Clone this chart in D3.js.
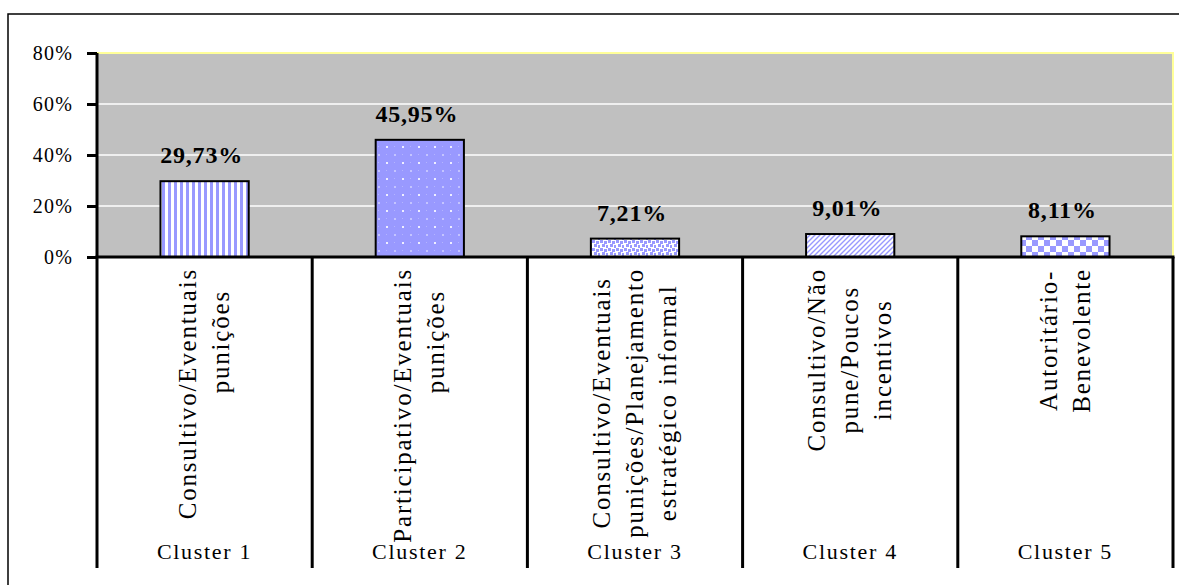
<!DOCTYPE html>
<html>
<head>
<meta charset="utf-8">
<script src="https://cdn.jsdelivr.net/npm/d3@7/dist/d3.min.js"></script>
<style>
  html, body { margin: 0; padding: 0; background: #ffffff; }
  svg { display: block; }
  text { font-family: "Liberation Serif", "Times New Roman", serif; fill: #000; }
</style>
</head>
<body>
<svg id="chart" width="1179" height="585"></svg>
<script>
// ---- data ----
const clusters = ["Cluster 1", "Cluster 2", "Cluster 3", "Cluster 4", "Cluster 5"];
const values = [29.73, 45.95, 7.21, 9.01, 8.11];
const categoryLines = [
  ["Consultivo/Eventuais", "punições"],
  ["Participativo/Eventuais", "punições"],
  ["Consultivo/Eventuais", "punições/Planejamento", "estratégico informal"],
  ["Consultivo/Não", "pune/Poucos", "incentivos"],
  ["Autoritário-", "Benevolente"]
];
const yTicks = [0, 20, 40, 60, 80];
const patternIds = ["pVert", "pDots", "pConfetti", "pDiag", "pCheck"];

// ---- layout ----
const plot = { left: 97, right: 1173, top: 53, bottom: 257 };
const catBottom = 568;
const blue = "#9999FF";
// how short wrapped lines sit in the rotated label block
const labelAlign = ["top", "top", "center", "center", "center"];
const svg = d3.select("#chart");

// outer border
svg.append("rect").attr("x", 8).attr("y", 14).attr("width", 1200).attr("height", 600)
  .attr("fill", "#fff").attr("stroke", "#000").attr("stroke-width", 1.5);

// patterns
const defs = svg.append("defs");
function pat(id, w, h) {
  return defs.append("pattern").attr("id", id).attr("patternUnits", "userSpaceOnUse")
    .attr("width", w).attr("height", h);
}
let p = pat("pVert", 6, 6);
p.append("rect").attr("width", 6).attr("height", 6).attr("fill", "#fff");
p.append("rect").attr("width", 3).attr("height", 6).attr("fill", blue);

p = pat("pDots", 16, 16);
p.append("rect").attr("width", 16).attr("height", 16).attr("fill", blue);
p.append("rect").attr("x", 2).attr("y", 2).attr("width", 2).attr("height", 2).attr("fill", "#eeeeff");
p.append("rect").attr("x", 10).attr("y", 10).attr("width", 2).attr("height", 2).attr("fill", "#c4c4ff");
p.append("rect").attr("x", 10).attr("y", 2).attr("width", 1).attr("height", 1).attr("fill", "#b4b4ff");
p.append("rect").attr("x", 2).attr("y", 10).attr("width", 1).attr("height", 1).attr("fill", "#b4b4ff");

p = pat("pConfetti", 8, 8);
p.append("rect").attr("width", 8).attr("height", 8).attr("fill", "#fff");
[[0,0],[4,1],[2,4],[6,5]].forEach(([a,b]) =>
  p.append("rect").attr("x", a).attr("y", b).attr("width", 3).attr("height", 3).attr("fill", blue));

p = pat("pDiag", 5, 5);
p.append("rect").attr("width", 5).attr("height", 5).attr("fill", "#fff");
p.append("path").attr("d", "M0,5 L5,0 M-1,1 L1,-1 M4,6 L6,4").attr("stroke", blue).attr("stroke-width", 1.4);

p = pat("pCheck", 12, 12);
p.append("rect").attr("width", 12).attr("height", 12).attr("fill", "#fff");
p.append("rect").attr("width", 6).attr("height", 6).attr("fill", blue);
p.append("rect").attr("x", 6).attr("y", 6).attr("width", 6).attr("height", 6).attr("fill", blue);

// scales
const y = d3.scaleLinear().domain([0, 80]).range([plot.bottom, plot.top]);
const x = d3.scaleBand().domain(clusters).range([plot.left, plot.right])
  .paddingInner(0.59).paddingOuter(0.295);
const xCat = d3.scaleBand().domain(clusters).range([plot.left, plot.right]).padding(0);

// plot background
svg.append("rect").attr("x", plot.left).attr("y", plot.top)
  .attr("width", plot.right - plot.left).attr("height", plot.bottom - plot.top)
  .attr("fill", "#C0C0C0");

// gridlines
svg.append("g").selectAll("line").data(yTicks.filter(t => t > 0 && t < 80)).join("line")
  .attr("x1", plot.left).attr("x2", plot.right)
  .attr("y1", d => y(d)).attr("y2", d => y(d))
  .attr("stroke", "#fff").attr("stroke-width", 1.5);

// top & right border (yellowish)
svg.append("path")
  .attr("d", `M${plot.left},${plot.top} H${plot.right} V${plot.bottom}`)
  .attr("fill", "none").attr("stroke", "#FFFF99").attr("stroke-width", 2);

// bars
svg.append("g").selectAll("rect").data(clusters).join("rect")
  .attr("x", d => x(d)).attr("width", x.bandwidth())
  .attr("y", (d, i) => y(values[i])).attr("height", (d, i) => y(0) - y(values[i]))
  .attr("fill", (d, i) => `url(#${patternIds[i]})`)
  .attr("stroke", "#000").attr("stroke-width", 2);

// value labels
const fmt = v => d3.format(".2f")(v).replace(".", ",") + "%";
svg.append("g").selectAll("text").data(clusters).join("text")
  .attr("x", d => x(d) + x.bandwidth() / 2 - 3)
  .attr("y", (d, i) => y(values[i]) - 18)
  .attr("text-anchor", "middle")
  .attr("font-size", 24).attr("font-weight", "bold").attr("letter-spacing", 0.8)
  .text((d, i) => fmt(values[i]));

// y axis
const yAxis = svg.append("g").attr("transform", `translate(${plot.left},0)`)
  .call(d3.axisLeft(y).tickValues(yTicks).tickFormat(d => d + "%").tickSize(10).tickPadding(14));
yAxis.select(".domain").attr("stroke", "#000").attr("stroke-width", 3)
  .attr("d", `M0,${plot.top}V${plot.bottom}`);
yAxis.selectAll(".tick line").attr("stroke", "#000").attr("stroke-width", 3);
yAxis.selectAll(".tick text").attr("font-family", '"Liberation Serif", "Times New Roman", serif')
  .attr("font-size", 20).attr("letter-spacing", 1.2).attr("fill", "#000").attr("dy", "0.34em");

// x axis line
svg.append("line").attr("x1", plot.left - 1.5).attr("x2", plot.right + 1.5)
  .attr("y1", plot.bottom).attr("y2", plot.bottom)
  .attr("stroke", "#000").attr("stroke-width", 3);

// category separators
const bounds = clusters.map(c => xCat(c)).concat([xCat(clusters[clusters.length - 1]) + xCat.bandwidth()]);
svg.append("g").selectAll("line").data(bounds).join("line")
  .attr("x1", d => d).attr("x2", d => d)
  .attr("y1", plot.bottom).attr("y2", catBottom)
  .attr("stroke", "#000").attr("stroke-width", 3);

// rotated category labels
const lineGap = 33, labelTop = 268, topInset = 22;
clusters.forEach((c, i) => {
  const cx = xCat(c) + xCat.bandwidth() / 2;
  const lines = categoryLines[i];
  const n = lines.length;
  const g = svg.append("g");
  const texts = lines.map(t => g.append("text")
    .attr("font-size", 25).attr("letter-spacing", 1.8)
    .attr("text-anchor", "middle").text(t));
  const lens = texts.map(t => t.node().getComputedTextLength());
  const maxLen = d3.max(lens);
  texts.forEach((t, j) => {
    const lx = cx + (j - (n - 1) / 2) * lineGap + 8;
    let cy = labelTop + maxLen / 2;
    if (labelAlign[i] === "top" && lens[j] < maxLen * 0.6) cy = labelTop + topInset + lens[j] / 2;
    t.attr("transform", `translate(${lx},${cy}) rotate(-90)`);
  });
});

// cluster labels
svg.append("g").selectAll("text").data(clusters).join("text")
  .attr("x", d => xCat(d) + xCat.bandwidth() / 2).attr("y", 559)
  .attr("text-anchor", "middle").attr("font-size", 22).attr("letter-spacing", 1.7)
  .text(d => d);
</script>
</body>
</html>
